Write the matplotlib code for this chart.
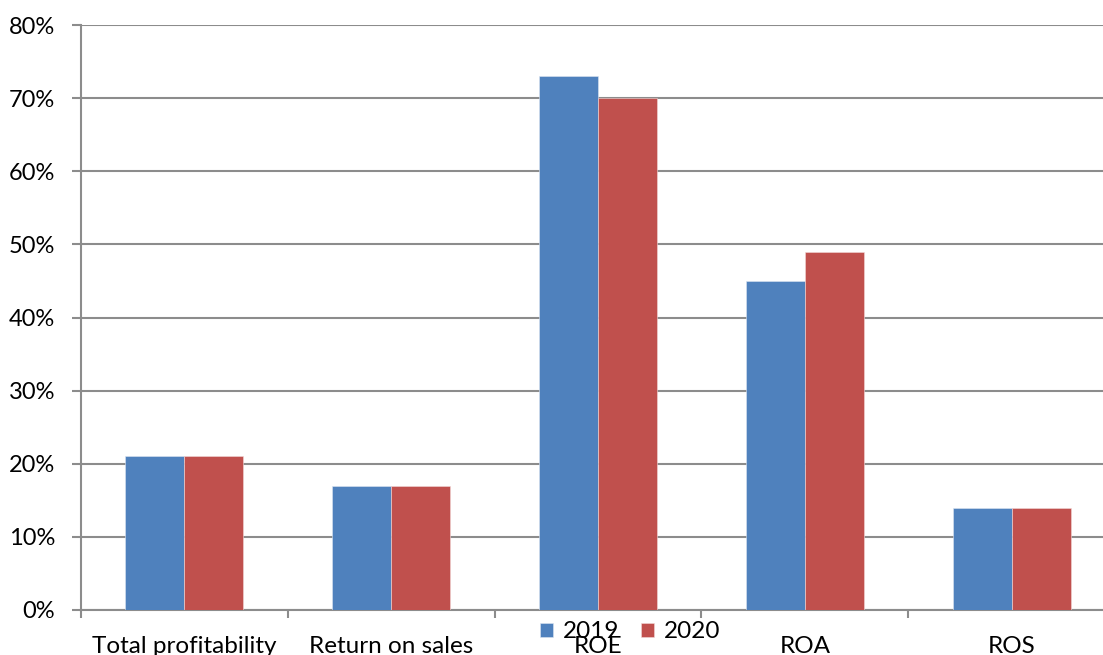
import numpy as np
import matplotlib
matplotlib.use("Agg")
import matplotlib.pyplot as plt
from matplotlib.ticker import PercentFormatter

categories = ["Total profitability", "Return on sales", "ROE", "ROA", "ROS"]
years = ["2019", "2020"]
values_2019 = [21, 17, 73, 45, 14]
values_2020 = [21, 17, 70, 49, 14]
y_ticks = [0, 10, 20, 30, 40, 50, 60, 70, 80]

plt.rcParams['font.family'] = ['Lato', 'DejaVu Sans']

W, H = 1103, 655
fig = plt.figure(figsize=(W / 100, H / 100), dpi=100)
# plot area runs a little past the right edge of the canvas
ax = fig.add_axes([81 / W, 1 - 610 / H, (1115 - 81) / W, (610 - 25) / H])

grid_color = "#8c8c8c"
x = np.arange(len(categories))
bw = 0.285
b1 = ax.bar(x - bw / 2, values_2019, bw, color="#4F81BD", edgecolor="#dde6f2",
            linewidth=0.4, label=years[0], zorder=3)
b2 = ax.bar(x + bw / 2, values_2020, bw, color="#C0504D", edgecolor="#f2d9d8",
            linewidth=0.4, label=years[1], zorder=3)

ax.set_xlim(-0.5, len(categories) - 0.5)
ax.set_ylim(0, 80)
ax.set_yticks(y_ticks)
ax.yaxis.set_major_formatter(PercentFormatter(decimals=0))
ax.yaxis.grid(True, color=grid_color, linewidth=1.5, zorder=0)

# category labels in the middle, tick marks on the boundaries
ax.set_xticks(x)
ax.set_xticklabels(categories)
ax.set_xticks(np.arange(len(categories) + 1) - 0.5, minor=True)
ax.tick_params(axis="x", which="major", length=0, pad=19, labelsize=17.5)
ax.tick_params(axis="x", which="minor", length=6, width=1.5, color=grid_color)
ax.tick_params(axis="y", length=6.5, width=1.5, color=grid_color, pad=12, labelsize=17)

for side in ["top", "right"]:
    ax.spines[side].set_visible(False)
for side in ["left", "bottom"]:
    ax.spines[side].set_color(grid_color)
    ax.spines[side].set_linewidth(1.5)

fig.legend(handles=[b1, b2], loc="center", bbox_to_anchor=(630 / W, 1 - 632 / H),
           ncol=2, frameon=False, fontsize=17.5, handlelength=0.55, handleheight=0.55,
           handletextpad=0.4, columnspacing=0.9, borderpad=0)

fig.savefig("out.png", dpi=100)
